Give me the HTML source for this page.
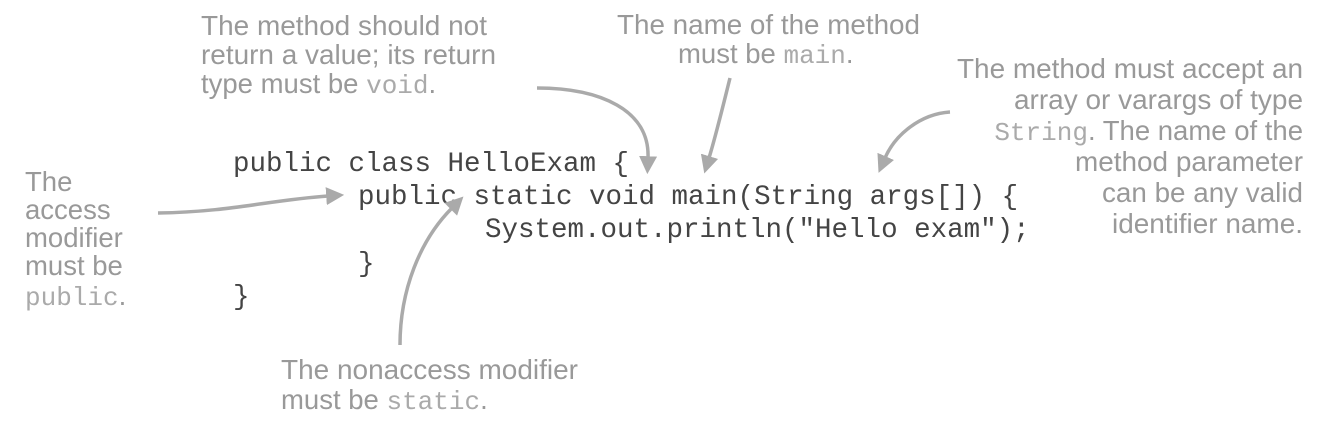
<!DOCTYPE html>
<html><head><meta charset="utf-8"><style>
html,body{margin:0;padding:0;background:#fff;width:1325px;height:426px;overflow:hidden}
svg{display:block}
.l{font-family:"Liberation Sans",Arial,sans-serif;font-size:27.5px;fill:#999}
.m{font-family:"Liberation Mono",monospace;font-size:26px;fill:#aaa}
.c{font-family:"Liberation Mono",monospace;font-size:27.5px;fill:#444}
.a{fill:none;stroke:#aaa;stroke-width:3.5}
</style></head><body>
<svg width="1325" height="426" viewBox="0 0 1325 426">
<defs>
<marker id="hh" viewBox="0 0 10 10" refX="1" refY="5" markerWidth="18" markerHeight="18" orient="auto" markerUnits="userSpaceOnUse"><path d="M0,0 L10,5 L0,10 z" fill="#aaa"/></marker></defs>

<text class="c" x="233" y="171">public class HelloExam {</text>
<text class="c" x="358" y="204">public static void main(String args[]) {</text>
<text class="c" x="485" y="237">System.out.println("Hello exam");</text>
<text class="c" x="358" y="271">}</text>
<text class="c" x="233" y="304">}</text>

<text class="l" x="201" y="35" textLength="286" lengthAdjust="spacingAndGlyphs">The method should not</text>
<text class="l" x="201" y="64" textLength="295" lengthAdjust="spacingAndGlyphs">return a value; its return</text>
<text class="l" x="201" y="93">type must be <tspan class="m">void</tspan>.</text>

<text class="l" x="617" y="34" textLength="303" lengthAdjust="spacingAndGlyphs">The name of the method</text>
<text class="l" x="678" y="63">must be <tspan class="m">main</tspan>.</text>

<text class="l" x="957" y="78" textLength="346" lengthAdjust="spacingAndGlyphs">The method must accept an</text>
<text class="l" x="1014" y="109" textLength="289" lengthAdjust="spacingAndGlyphs">array or varargs of type</text>
<text class="l" x="1303" y="140" text-anchor="end"><tspan class="m">String</tspan>. The name of the</text>
<text class="l" x="1075" y="171" textLength="228" lengthAdjust="spacingAndGlyphs">method parameter</text>
<text class="l" x="1102" y="202" textLength="201" lengthAdjust="spacingAndGlyphs">can be any valid</text>
<text class="l" x="1112" y="233" textLength="191" lengthAdjust="spacingAndGlyphs">identifier name.</text>

<text class="l" x="25" y="191">The</text>
<text class="l" x="25" y="219">access</text>
<text class="l" x="25" y="247">modifier</text>
<text class="l" x="25" y="275">must be</text>
<text class="l" x="25" y="305"><tspan class="m">public</tspan>.</text>

<text class="l" x="281" y="379" textLength="297" lengthAdjust="spacingAndGlyphs">The nonaccess modifier</text>
<text class="l" x="281" y="409">must be <tspan class="m">static</tspan>.</text>

<path class="a" d="M537,88 C600,88 650,110 648,158" marker-end="url(#hh)"/>
<path class="a" d="M730,78 C722,110 716,135 709,158" marker-end="url(#hh)"/>
<path class="a" d="M950,112 C920,114 895,135 885,158" marker-end="url(#hh)"/>
<path class="a" d="M158,213 C230,212 270,200 328,196" marker-end="url(#hh)"/>
<path class="a" d="M400,345 C400,290 420,240 452,208" marker-end="url(#hh)"/>
</svg>
</body></html>
